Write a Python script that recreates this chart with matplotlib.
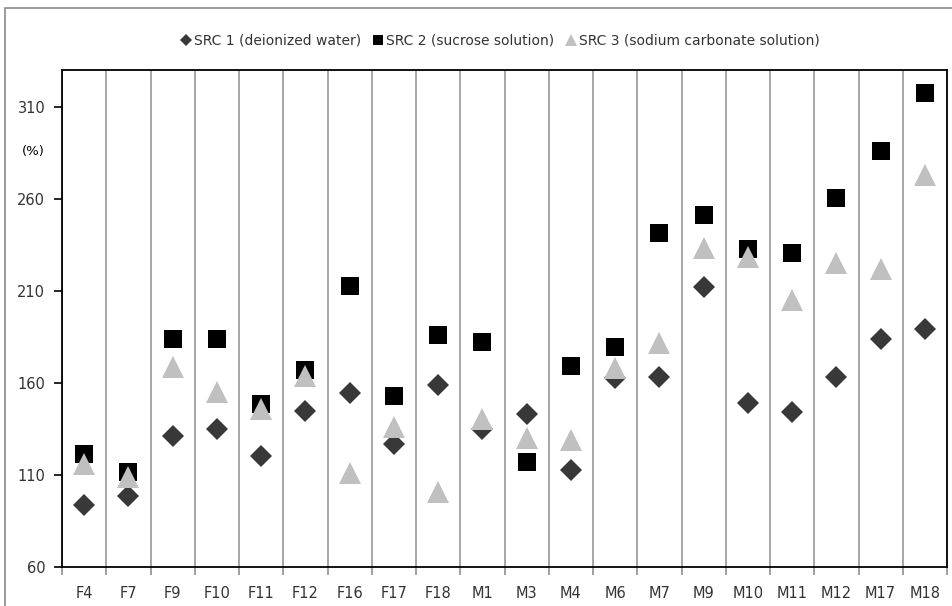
import numpy as np
import matplotlib
matplotlib.use("Agg")
import matplotlib.pyplot as plt
from matplotlib.patches import Rectangle

samples = ["F4", "F7", "F9", "F10", "F11", "F12", "F16", "F17", "F18", "M1",
           "M3", "M4", "M6", "M7", "M9", "M10", "M11", "M12", "M17", "M18"]

# solvent retention capacity (%)
src1_water = [93.6, 98.5, 131.2, 134.8, 120.3, 145.0, 154.4, 126.7, 159.0, 134.8,
              143.0, 112.7, 162.6, 163.0, 212.0, 149.0, 144.4, 163.0, 183.9, 189.3]
src2_sucrose = [121.2, 111.7, 184.0, 184.0, 148.5, 167.1, 212.9, 153.0, 186.2, 182.5,
                117.2, 169.3, 179.5, 241.6, 251.0, 233.0, 230.7, 260.3, 286.0, 317.3]
src3_carbonate = [115.8, 109.0, 168.6, 155.3, 145.7, 163.5, 110.9, 136.3, 100.8, 140.4,
                  129.9, 129.0, 168.0, 181.7, 233.4, 228.3, 205.3, 225.3, 222.0, 272.8]

y_ticks = [60, 110, 160, 210, 260, 310]

W, H = 953, 606
fig = plt.figure(figsize=(W / 100, H / 100), dpi=100)
ax = fig.add_axes([62 / W, 1 - 567 / H, (947 - 62) / W, (567 - 70) / H])

x = np.arange(len(samples))
ax.plot(x, src1_water, "D", color="#383838", markersize=11.5, markeredgewidth=0,
        label="SRC 1 (deionized water)", zorder=3)
ax.plot(x, src2_sucrose, "s", color="black", markersize=13, markeredgewidth=0,
        label="SRC 2 (sucrose solution)", zorder=3)
ax.plot(x, src3_carbonate, "^", color="#c0c0c0", markersize=15.5, markeredgewidth=0,
        label="SRC 3 (sodium carbonate solution)", zorder=4)

ax.set_xlim(-0.5, len(samples) - 0.5)
ax.set_ylim(60, 330)
ax.set_yticks(y_ticks)
ax.tick_params(axis="y", direction="out", length=6, width=1.2, labelsize=10.5, pad=6,
               labelcolor="#333333")

# boundaries between samples get the gridlines and ticks, labels sit in the middle
ax.set_xticks(np.arange(-0.5, len(samples)))
ax.set_xticklabels([])
ax.set_xticks(x, minor=True)
ax.set_xticklabels(samples, minor=True, fontsize=10.5, color="#333333")
ax.tick_params(axis="x", which="major", direction="out", length=6, width=1.2, color="#909090")
ax.tick_params(axis="x", which="minor", length=0, pad=14)
ax.grid(axis="x", which="major", color="#a0a0a0", linewidth=1.3)
ax.set_axisbelow(True)

for s in ax.spines.values():
    s.set_linewidth(1.3)
    s.set_color("black")

fig.text(33 / W, 1 - 151 / H, "(%)", ha="center", va="center", fontsize=9.5)

fig.legend(loc="center", bbox_to_anchor=(500 / W, 1 - 41 / H), ncol=3, frameon=False,
           fontsize=10, handlelength=0.8, handletextpad=0.2, columnspacing=0.8,
           markerscale=0.55, labelcolor="#333333")

# outer chart frame
fig.patches.append(Rectangle((5 / W, -0.1), 1.1, 1.1 - 8 / H, transform=fig.transFigure,
                             fill=False, edgecolor="#8a8a8a", linewidth=1.2))

fig.savefig("out.png", dpi=100)
